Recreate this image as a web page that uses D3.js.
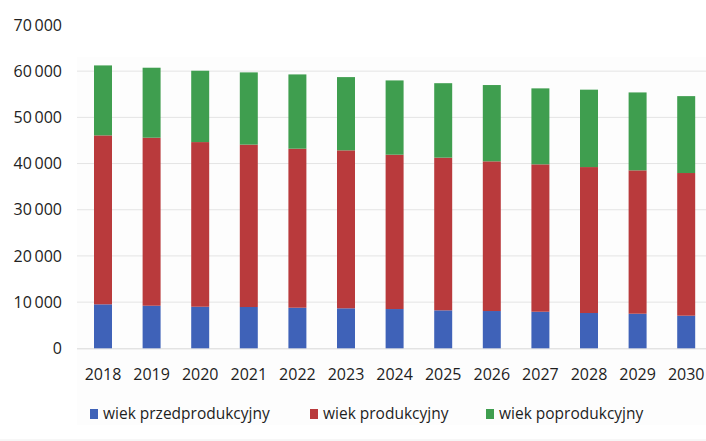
<!DOCTYPE html>
<html>
<head>
<meta charset="utf-8">
<script src="https://cdn.jsdelivr.net/npm/d3@7"></script>
<style>
  body { margin: 0; background: #fff; }
  svg { display: block; font-family: "Open Sans", sans-serif; }
</style>
</head>
<body>
<div id="chart"></div>
<script>
const WIDTH = 706;
const HEIGHT = 441;

// dane
const lata = ["2018", "2019", "2020", "2021", "2022", "2023", "2024", "2025", "2026", "2027", "2028", "2029", "2030"];
const przedprodukcyjny = [9520, 9220, 9000, 8940, 8790, 8660, 8500, 8220, 8070, 7920, 7640, 7490, 7060];
const produkcyjny = [36580, 36380, 35650, 35160, 34430, 34200, 33420, 33060, 32410, 31910, 31600, 31040, 30890];
const poprodukcyjny = [15150, 15150, 15450, 15640, 16080, 15860, 16080, 16120, 16520, 16450, 16760, 16870, 16650];
const serie = ["wiek przedprodukcyjny", "wiek produkcyjny", "wiek poprodukcyjny"];
const kolory = ["#3f62b8", "#b93a3c", "#3f9e4f"];
const yTicks = [0, 10000, 20000, 30000, 40000, 50000, 60000, 70000];

const svg = d3.select("#chart").append("svg")
  .attr("width", WIDTH)
  .attr("height", HEIGHT);

const dane = lata.map((rok, i) => ({
  rok: rok,
  [serie[0]]: przedprodukcyjny[i],
  [serie[1]]: produkcyjny[i],
  [serie[2]]: poprodukcyjny[i]
}));

const stos = d3.stack().keys(serie)(dane);

const x = d3.scaleBand()
  .domain(lata)
  .range([78.7, 710.5])
  .paddingInner(0.63)
  .paddingOuter(0.315);

const y = d3.scaleLinear()
  .domain([0, 70000])
  .range([348.3, 25]);

// tło obszaru wykresu
svg.append("rect")
  .attr("x", 77).attr("y", 57)
  .attr("width", WIDTH - 77).attr("height", 368)
  .attr("fill", "#fdfdfd");

// linie siatki
svg.append("g")
  .selectAll("line")
  .data(yTicks.filter(d => d > 0 && d < 70000))
  .join("line")
  .attr("x1", 77).attr("x2", WIDTH)
  .attr("y1", d => y(d)).attr("y2", d => y(d))
  .attr("stroke", "#e4e4e4")
  .attr("stroke-width", 1);

svg.append("line")
  .attr("x1", 77).attr("x2", WIDTH)
  .attr("y1", y(0) + 0.5).attr("y2", y(0) + 0.5)
  .attr("stroke", "#d8d8d8");

// etykiety osi Y
svg.append("g")
  .selectAll("text")
  .data(yTicks)
  .join("text")
  .attr("x", 62)
  .attr("y", d => y(d))
  .attr("dy", "0.35em")
  .attr("text-anchor", "end")
  .attr("font-size", 16)
  .attr("fill", "#222")
  .text(d => d === 0 ? "0" : d3.format(",")(d).replace(",", "\u2009"));

// słupki
svg.append("g")
  .selectAll("g")
  .data(stos)
  .join("g")
  .attr("fill", (d, i) => kolory[i])
  .selectAll("rect")
  .data(d => d)
  .join("rect")
  .attr("x", d => x(d.data.rok))
  .attr("y", d => y(d[1]))
  .attr("width", x.bandwidth())
  .attr("height", d => y(d[0]) - y(d[1]));

// etykiety osi X
svg.append("g")
  .selectAll("text")
  .data(lata)
  .join("text")
  .attr("x", d => x(d) + x.bandwidth() / 2)
  .attr("y", 374)
  .attr("dy", "0.35em")
  .attr("text-anchor", "middle")
  .attr("font-size", 16)
  .attr("fill", "#1e1e1e")
  .text(d => d);

// legenda
const legendaX = [90, 310, 486];
const legenda = svg.append("g")
  .selectAll("g")
  .data(serie)
  .join("g")
  .attr("transform", (d, i) => `translate(${legendaX[i]},414)`);

legenda.append("rect")
  .attr("x", 0).attr("y", -5)
  .attr("width", 8).attr("height", 10)
  .attr("fill", (d, i) => kolory[i]);

legenda.append("text")
  .attr("x", 13)
  .attr("dy", "0.35em")
  .attr("font-size", 15.5)
  .attr("fill", "#1e1e1e")
  .text(d => d);

// dolna krawędź
svg.append("line")
  .attr("x1", 0).attr("x2", WIDTH)
  .attr("y1", 440).attr("y2", 440)
  .attr("stroke", "#eeeeee");
</script>
</body>
</html>
